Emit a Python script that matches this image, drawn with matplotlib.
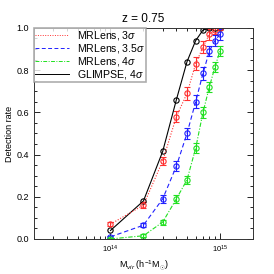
import matplotlib
matplotlib.use("Agg")
import matplotlib.pyplot as plt
from matplotlib.lines import Line2D
from matplotlib.ticker import MultipleLocator, LogLocator, NullFormatter

plt.rcParams['font.family'] = ['Liberation Sans', 'DejaVu Sans']
plt.rcParams['mathtext.fontset'] = 'custom'
plt.rcParams['mathtext.rm'] = 'Liberation Sans'
plt.rcParams['mathtext.it'] = 'Liberation Sans:italic'

# masses in h^-1 M_sun
mass = [1e14, 2e14, 3e14, 4e14, 5e14, 6e14, 7e14, 8e14, 9e14, 1e15]

mrlens_3 = [0.07, 0.16, 0.37, 0.58, 0.69, 0.83, 0.91, 0.97, 0.99, 1.00]
mrlens_3_err = [0.01, 0.015, 0.02, 0.025, 0.03, 0.03, 0.03, 0.025, 0.02, 0.01]

mrlens_35 = [0.01, 0.065, 0.19, 0.345, 0.50, 0.65, 0.785, 0.89, 0.94, 0.97]
mrlens_35_err = [0.005, 0.01, 0.02, 0.025, 0.025, 0.03, 0.03, 0.025, 0.025, 0.025]

mrlens_4 = [0.0, 0.015, 0.08, 0.19, 0.28, 0.43, 0.60, 0.72, 0.815, 0.89]
mrlens_4_err = [0.003, 0.008, 0.012, 0.02, 0.02, 0.025, 0.025, 0.025, 0.025, 0.025]

glimpse_4 = [0.04, 0.18, 0.415, 0.66, 0.84, 0.94, 0.99, 1.00, 1.00, 1.00]

labels = [r'MRLens, 3$\sigma$', r'MRLens, 3.5$\sigma$', r'MRLens, 4$\sigma$', r'GLIMPSE, 4$\sigma$']
colors = ['#ff3030', '#2020ff', '#20e020', 'black']
styles = [(0, (1, 1.5)), (0, (4, 2.5)), (0, (4, 1.5, 1, 1.5)), '-']

fig = plt.figure(figsize=(2.74, 2.74), dpi=100)
ax = fig.add_axes([0.124, 0.128, 0.799, 0.770])

mk = dict(marker='o', markersize=3.8, markerfacecolor='none', markeredgewidth=0.8)
eb = dict(capsize=2, elinewidth=0.8, capthick=0.8)

series = [(mrlens_3, mrlens_3_err), (mrlens_35, mrlens_35_err), (mrlens_4, mrlens_4_err)]
for (vals, err), c, ls in zip(series, colors[:3], styles[:3]):
    ax.errorbar(mass, vals, yerr=err, color=c, linestyle=ls, linewidth=0.8, **mk, **eb)
ax.plot(mass, glimpse_4, color='black', linestyle='-', linewidth=0.8, **mk)

ax.set_xscale('log')
ax.set_xlim(2e13, 2e15)
ax.set_ylim(0, 1.0)
ax.yaxis.set_major_locator(MultipleLocator(0.2))
ax.yaxis.set_minor_locator(MultipleLocator(0.05))
ax.yaxis.set_major_formatter(plt.FormatStrFormatter('%.1f'))
ax.xaxis.set_minor_locator(LogLocator(base=10, subs=range(2, 10)))
ax.xaxis.set_minor_formatter(NullFormatter())

ax.tick_params(which='both', direction='in', top=True, right=True, labelsize=6.5)
ax.tick_params(which='major', length=4, width=0.6)
ax.tick_params(which='minor', length=2, width=0.6)
ax.tick_params(axis='x', labelsize=5.5)
for s in ax.spines.values():
    s.set_linewidth(0.7)
    s.set_color('#333333')

ax.set_title('z = 0.75', fontsize=8.5, pad=4)
ax.set_ylabel('Detection rate', fontsize=6.5, labelpad=2)
ax.set_xlabel(r'M$_{vir}$ (h$^{-1}$M$_{\odot}$)', fontsize=6.5, labelpad=2)

handles = [Line2D([], [], color=c, linestyle=ls, linewidth=0.7) for c, ls in zip(colors, styles)]
leg = ax.legend(handles, labels, loc='upper left', fontsize=7.6, frameon=True, fancybox=False,
                borderpad=0.1, labelspacing=0.0, handlelength=3.2,
                handletextpad=0.8, borderaxespad=0.0)
leg.get_frame().set_edgecolor('#999999')
leg.get_frame().set_linewidth(1.2)

fig.savefig('out.png', dpi=100)
